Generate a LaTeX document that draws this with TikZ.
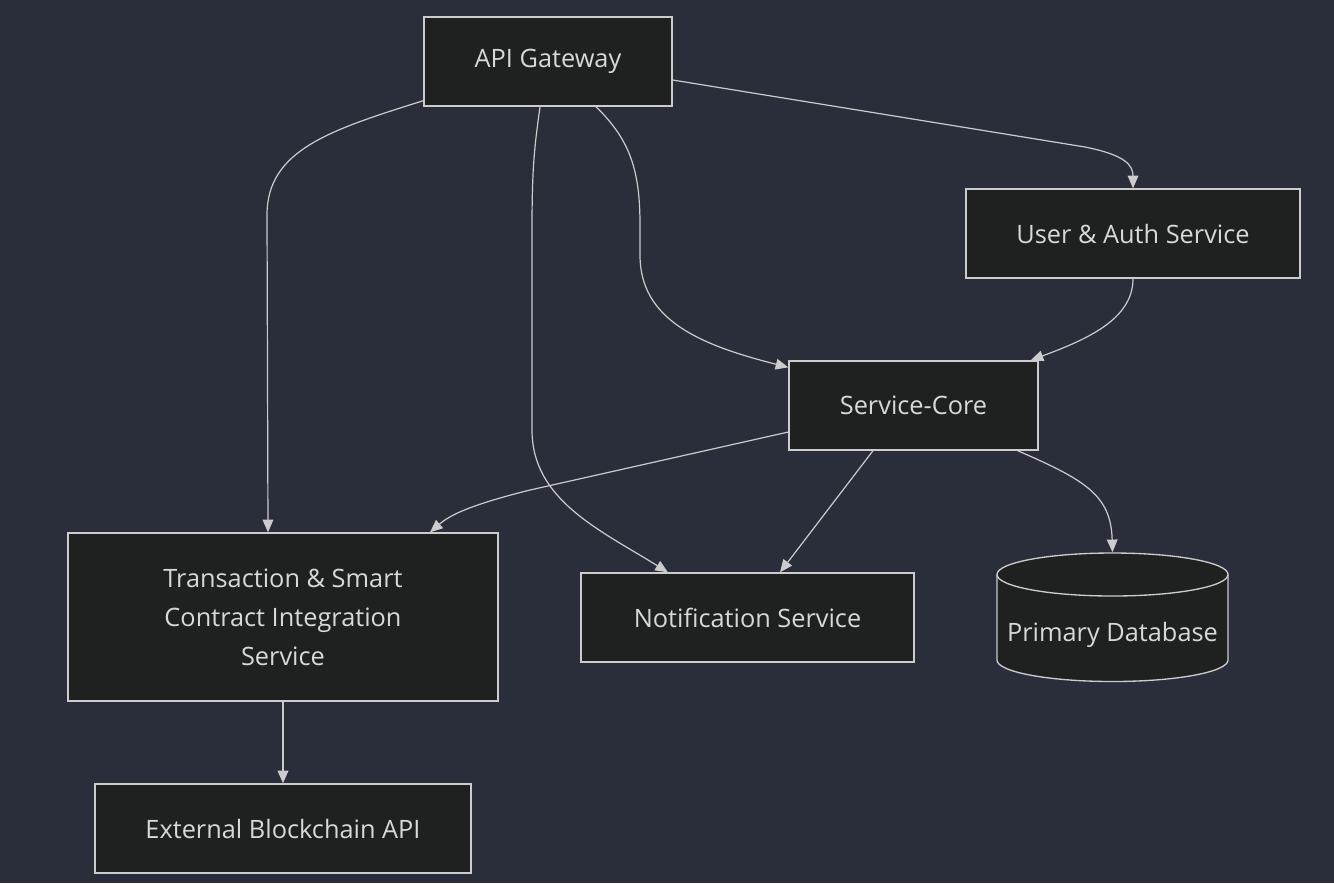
\documentclass[tikz,border=0pt]{standalone}
\usepackage{fontspec}
\setmainfont{Open Sans}
\usetikzlibrary{arrows.meta,calc}

\definecolor{bgcol}{HTML}{2A2E3B}
\definecolor{boxfill}{HTML}{1F2020}
\definecolor{edgecol}{HTML}{CCCCCC}
\definecolor{txtcol}{HTML}{D8D8D8}

\tikzset{
  svc/.style={draw=edgecol, fill=boxfill, line width=1pt, text=txtcol,
    inner sep=0pt, align=center, font=\fontsize{19}{29.25}\selectfont},
  dbbox/.style={inner sep=0pt, minimum width=173.25pt, minimum height=96.75pt},
  link/.style={draw=edgecol, line width=0.9pt, -{Triangle[length=9.5pt,width=8pt]}},
}

\begin{document}
\begin{tikzpicture}[x=0.75pt,y=-0.75pt]
\fill [bgcol] (0,0) rectangle (1334,883);
\useasboundingbox (0,0) rectangle (1334,883);
% services
\node [svc, minimum width=186pt, minimum height=66.75pt] (api) at (548,61.5) {API Gateway};
\node [svc, minimum width=250.5pt, minimum height=66.75pt] (auth) at (1133,233.5) {User \& Auth Service};
\node [svc, minimum width=186.75pt, minimum height=66.75pt] (core) at (913.5,405.5) {Service-Core};
\node [svc, minimum width=322.5pt, minimum height=126pt] (trans) at (283,617) {Transaction \& Smart\\Contract Integration\\Service};
\node [svc, minimum width=249.75pt, minimum height=66.75pt] (notif) at (747.5,617.5) {Notification Service};
\node [svc, minimum width=282pt, minimum height=66.75pt] (chain) at (283,828.5) {External Blockchain API};
% database
\node [dbbox] (db) at (1112.5,617) {};
\filldraw [draw=edgecol, fill=boxfill, line width=1pt]
  (997,574.5) -- (997,660)
  .. controls (997,671.9) and (1048.7,681.5) .. (1112.5,681.5)
  .. controls (1176.3,681.5) and (1228,671.9) .. (1228,660)
  -- (1228,574.5)
  .. controls (1228,562.6) and (1176.3,553) .. (1112.5,553)
  .. controls (1048.7,553) and (997,562.6) .. (997,574.5) -- cycle;
\draw [edgecol, line width=1pt] (997,574.5)
  .. controls (997,586.4) and (1048.7,596) .. (1112.5,596)
  .. controls (1176.3,596) and (1228,586.4) .. (1228,574.5);
\node [text=txtcol, font=\fontsize{19}{29.25}\selectfont] at (1112.5,635) {Primary Database};
% connectors
\draw [link] ($(api.south west)+(0,-6)$) .. controls (330,130) and (267,150) .. (267,215) -- ($(trans.north)+(-15,0)$);
\draw [link] ($(api.south)+(-8,0)$) .. controls (534,150) and (532,170) .. (532,230) -- (532,430)
  .. controls (532,500) and (600,530) .. ($(notif.north)+(-79.5,0)$);
\draw [link] ($(api.south)+(48,0)$) .. controls (630,140) and (640,170) .. (640,225) -- (640,255)
  .. controls (640,320) and (700,345) .. ($(core.north west)+(0,7)$);
\draw [link] ($(api.east)+(0,18.5)$) -- (1085,147) .. controls (1125,155) and (1133,165) .. (auth.north);
\draw [link] (auth.south) .. controls (1133,320) and (1085,340) .. ($(core.north east)+(-8,0)$);
\draw [link] ($(core.west)+(0,26.5)$) -- (530,490) .. controls (470,505) and (450,515) .. ($(trans.north)+(147,0)$);
\draw [link] ($(core.south)+(-40.5,0)$) -- ($(notif.north)+(32.5,0)$);
\draw [link] ($(core.south east)+(-21,0)$) .. controls (1085,480) and (1111,495) .. (db.north);
\draw [link] (trans.south) -- (chain.north);
\end{tikzpicture}
\end{document}
